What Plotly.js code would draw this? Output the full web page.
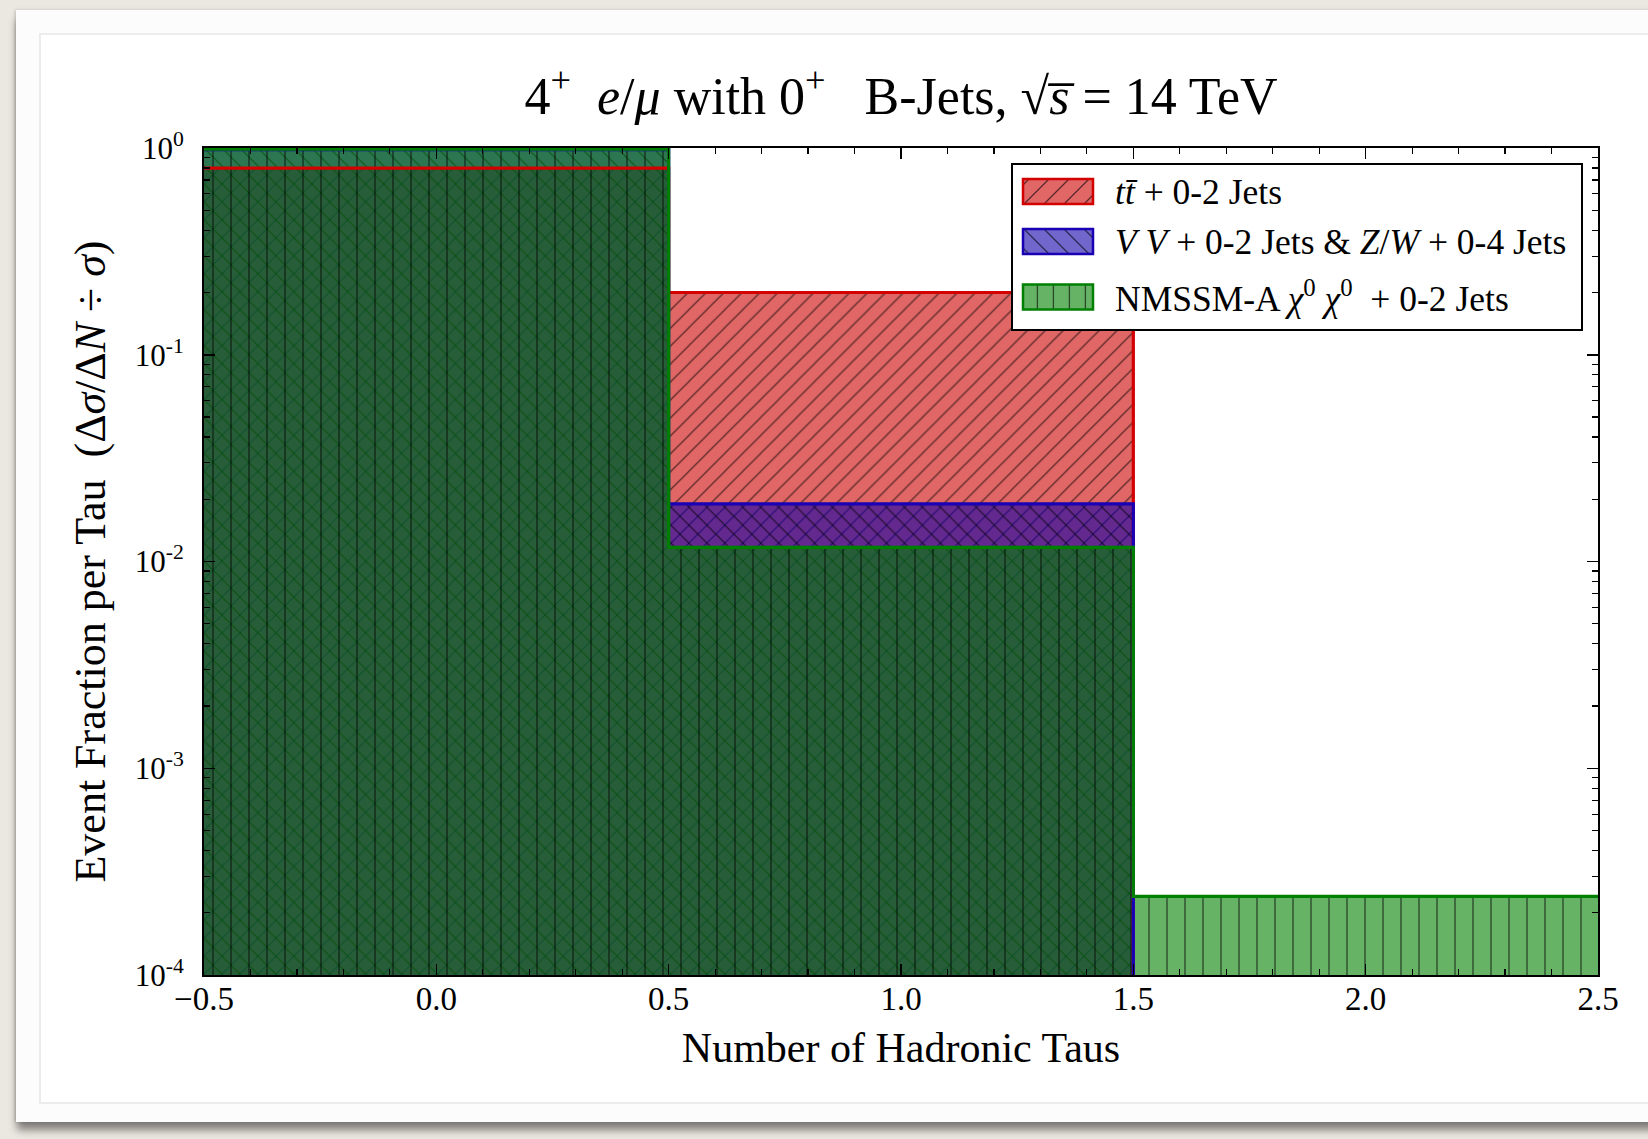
<!DOCTYPE html>
<html>
<head>
<meta charset="utf-8">
<script src="https://cdn.plot.ly/plotly-3.0.1.min.js"></script>
<style>
  html, body { margin: 0; padding: 0; width: 1648px; height: 1139px; overflow: hidden; background: #ebe7e1; }
  #card { position: absolute; left: 16px; top: 10px; width: 1720px; height: 1112px; background: #fcfcfc;
          box-shadow: 0 9px 8px -1px rgba(0,0,0,0.45), -1px 0 3px rgba(0,0,0,0.18); }
  #inner { position: absolute; left: 39px; top: 33px; width: 1720px; height: 1067px; background: #ffffff;
           border: 2px solid #ececec; }
  #chart { position: absolute; left: 0; top: 0; width: 1648px; height: 1139px; }
</style>
</head>
<body>
<div id="card"></div>
<div id="inner"></div>
<div id="chart"></div>
<script>
// Number of hadronic taus per event (bin centres)
const nTaus = [0, 1, 2];

// Normalised event fractions per bin
const ttbarFrac   = [0.80, 0.20, 0];
const dibosonFrac = [0.981, 0.019, 0];
const nmssmFrac   = [0.988, 0.0117, 0.00024];

const seriesNames = [
  '<i>t</i><i>t\u0304</i> + 0-2 Jets',
  '<i>V</i> <i>V</i> + 0-2 Jets &amp; <i>Z</i>/<i>W</i> + 0-4 Jets',
  'NMSSM-A <i>\u03c7</i><sup>0</sup> <i>\u03c7</i><sup>0</sup>  + 0-2 Jets'
];

const xTickVals = [-0.5, 0, 0.5, 1, 1.5, 2, 2.5];
const xTickText = ['\u22120.5', '0.0', '0.5', '1.0', '1.5', '2.0', '2.5'];
const yTickVals = [1e-4, 1e-3, 1e-2, 1e-1, 1];
const yTickText = ['10<sup>-4</sup>', '10<sup>-3</sup>', '10<sup>-2</sup>', '10<sup>-1</sup>', '10<sup>0</sup>'];

const FONT = '"Liberation Serif", "DejaVu Serif", serif';

const styles = [
  { fill: 'rgba(205,0,0,0.6)',  edge: '#d40000', hatch: '/',  size: 12.7, solidity: 0.1 },
  { fill: 'rgba(16,0,170,0.6)', edge: '#1a00b4', hatch: '\\', size: 12.7, solidity: 0.1 },
  { fill: 'rgba(0,128,0,0.6)',  edge: '#008000', hatch: '|',  size: 18,   solidity: 0.075 }
];
const seriesData = [ttbarFrac, dibosonFrac, nmssmFrac];

// bin edges for the step outlines
const edges = nTaus.map(n => n - 0.5).concat([nTaus[nTaus.length - 1] + 0.5]);
const LOG_FLOOR = 1e-8; // empty bins drop the outline below the visible range

const traces = [];
seriesData.forEach((vals, i) => {
  const s = styles[i];
  traces.push({
    type: 'bar', x: nTaus, y: vals, width: 1,
    name: seriesNames[i], showlegend: false, hoverinfo: 'skip',
    marker: {
      color: s.fill, line: { width: 0 },
      pattern: { shape: s.hatch, fillmode: 'replace', bgcolor: s.fill, fgcolor: '#000000',
                 fgopacity: 0.6, size: s.size, solidity: s.solidity }
    }
  });
});
seriesData.forEach((vals, i) => {
  const s = styles[i];
  const yStep = vals.map(v => (v > 0 ? v : LOG_FLOOR));
  yStep.push(yStep[yStep.length - 1]);
  traces.push({
    type: 'scatter', mode: 'lines', x: edges, y: yStep,
    line: { color: s.edge, width: 3.2, shape: 'hv' },
    showlegend: false, hoverinfo: 'skip'
  });
});

// plot-area geometry in page pixels, used to place the legend box
const PL = 204, PR = 1598, PT = 148, PB = 975;
const fx = X => (X - PL) / (PR - PL);
const fy = Y => (PB - Y) / (PB - PT);

const shapes = [];
const annotations = [];

// legend frame
shapes.push({ type: 'rect', xref: 'paper', yref: 'paper', x0: fx(1012), x1: fx(1582), y0: fy(330), y1: fy(164),
              line: { color: '#000', width: 2 }, fillcolor: '#ffffff', layer: 'above' });

function hatchSegments(kind, x0, y0, w, h, step) {
  const segs = [];
  if (kind === '|') {
    for (let x = x0 + step * 0.9; x < x0 + w - 1; x += step) segs.push([x, y0, x, y0 + h]);
  } else if (kind === '/') {
    for (let c = x0 + y0 + 6; c < x0 + w + y0 + h; c += step) {
      const xa = Math.max(x0, c - (y0 + h)), xb = Math.min(x0 + w, c - y0);
      if (xb - xa > 2) segs.push([xa, c - xa, xb, c - xb]);
    }
  } else {
    for (let c = x0 - (y0 + h) + 6; c < x0 + w - y0; c += step) {
      const xa = Math.max(x0, c + y0), xb = Math.min(x0 + w, c + y0 + h);
      if (xb - xa > 2) segs.push([xa, xa - c, xb, xb - c]);
    }
  }
  return segs;
}

const rowCenters = [191.5, 241.5, 297];
const swX0 = 1023, swW = 70, swH = 25;
styles.forEach((s, i) => {
  const yc = rowCenters[i];
  const top = yc - swH / 2;
  shapes.push({ type: 'rect', xref: 'paper', yref: 'paper', x0: fx(swX0), x1: fx(swX0 + swW),
                y0: fy(top + swH), y1: fy(top), fillcolor: s.fill, line: { width: 0 }, layer: 'above' });
  hatchSegments(s.hatch, swX0, top, swW, swH, s.hatch === '|' ? 16 : 20).forEach(sg => {
    shapes.push({ type: 'line', xref: 'paper', yref: 'paper', x0: fx(sg[0]), y0: fy(sg[1]), x1: fx(sg[2]), y1: fy(sg[3]),
                  line: { color: 'rgba(0,0,0,0.6)', width: 1.3 }, layer: 'above' });
  });
  shapes.push({ type: 'rect', xref: 'paper', yref: 'paper', x0: fx(swX0), x1: fx(swX0 + swW),
                y0: fy(top + swH), y1: fy(top), fillcolor: 'rgba(0,0,0,0)', line: { color: s.edge, width: 2.5 }, layer: 'above' });
  annotations.push({ xref: 'paper', yref: 'paper', x: fx(1113), y: fy(yc), xanchor: 'left', yanchor: 'middle',
                     text: seriesNames[i], showarrow: false, font: { family: FONT, size: 35.5, color: '#000' } });
});

const yMinor = [];
for (let e = -4; e < 0; e++) for (let m = 2; m <= 9; m++) yMinor.push(m * Math.pow(10, e));

const layout = {
  width: 1648, height: 1139,
  paper_bgcolor: 'rgba(0,0,0,0)', plot_bgcolor: '#ffffff',
  margin: { l: PL, r: 1648 - PR, t: PT, b: 1139 - PB, pad: 0 },
  barmode: 'overlay', bargap: 0,
  font: { family: FONT, color: '#000' },
  title: {
    text: '4<sup>+</sup>  <i>e</i>/<i>\u03bc</i> with 0<sup>+</sup>   B-Jets, \u221a<i>s\u0305</i> = 14 TeV',
    font: { family: FONT, size: 52, color: '#000' },
    xref: 'paper', x: 0.5, xanchor: 'center', yref: 'container', y: 1 - 96 / 1139, yanchor: 'middle'
  },
  xaxis: {
    range: [-0.5, 2.5], tickmode: 'array', tickvals: xTickVals, ticktext: xTickText,
    ticks: 'inside', ticklen: 11, tickwidth: 1.5, tickcolor: '#000',
    showline: true, linecolor: '#000', linewidth: 2, mirror: 'allticks',
    showgrid: false, zeroline: false, ticklabelstandoff: -7,
    tickfont: { family: FONT, size: 33, color: '#000' },
    minor: { ticks: 'inside', ticklen: 6, tickwidth: 1.2, tickcolor: '#000', tick0: -0.5, dtick: 0.1, showgrid: false },
    title: { text: 'Number of Hadronic Taus', font: { family: FONT, size: 42, color: '#000' }, standoff: 17 }
  },
  yaxis: {
    type: 'log', range: [-4, 0], tickmode: 'array', tickvals: yTickVals, ticktext: yTickText,
    ticks: 'inside', ticklen: 11, tickwidth: 1.5, tickcolor: '#000',
    showline: true, linecolor: '#000', linewidth: 2, mirror: 'allticks',
    showgrid: false, zeroline: false, ticklabelstandoff: 12,
    tickfont: { family: FONT, size: 31, color: '#000' },
    minor: { ticks: 'inside', ticklen: 6, tickwidth: 1.2, tickcolor: '#000', tickmode: 'array', tickvals: yMinor, showgrid: false },
    title: { text: 'Event Fraction per Tau  (\u0394<i>\u03c3</i>/\u0394<i>N</i> \u00f7 <i>\u03c3</i>)',
             font: { family: FONT, size: 44, color: '#000' }, standoff: 15 }
  },
  shapes: shapes,
  annotations: annotations
};

Plotly.newPlot('chart', traces, layout, { displayModeBar: false, staticPlot: true });
</script>
</body>
</html>
